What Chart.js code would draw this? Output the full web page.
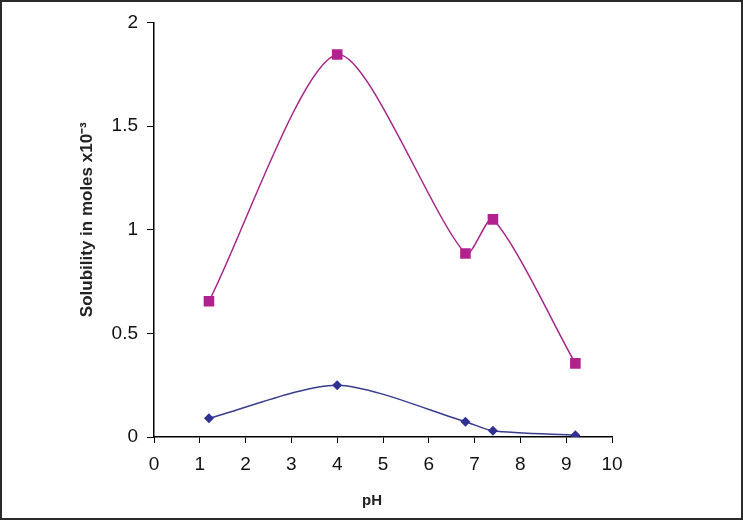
<!DOCTYPE html>
<html>
<head>
<meta charset="utf-8">
<script src="https://cdn.jsdelivr.net/npm/chart.js@4"></script>
<style>
  html, body { margin: 0; padding: 0; background: #fff; }
  #frame { width: 743px; height: 520px; box-sizing: border-box; border: 2px solid #2a2a2a; }
  #wrap { width: 739px; height: 516px; }
</style>
</head>
<body>
<div id="frame"><div id="wrap"><canvas id="solChart"></canvas></div></div>
<script>
// pH values and measured solubility (moles x10^-3)
const phValues = [1.2, 4, 6.8, 7.4, 9.2];
const upperSeries = [0.655, 1.845, 0.885, 1.05, 0.355];
const lowerSeries = [0.09, 0.25, 0.074, 0.03, 0.008];
const xTicks = [0, 1, 2, 3, 4, 5, 6, 7, 8, 9, 10];
const yTicks = [0, 0.5, 1, 1.5, 2];

const xTitle = "pH";
const yTitle = "Solubility in moles x10\u207B\u00B3";

const FONT = "'Liberation Sans', Arial, sans-serif";

function toPoints(ys) {
    return phValues.map((x, i) => ({ x: x, y: ys[i] }));
}

// axis titles are drawn by hand so they sit where the original has them
const titlePlugin = {
    id: 'axisTitles',
    afterDraw(chart) {
        const ctx = chart.ctx;
        const area = chart.chartArea;
        ctx.save();
        ctx.fillStyle = '#222';
        ctx.textAlign = 'center';
        ctx.textBaseline = 'middle';
        ctx.font = "bold 15px " + FONT;
        ctx.fillText(xTitle, (area.left + area.right) / 2 - 11, area.bottom + 64);
        ctx.font = "bold 17px " + FONT;
        ctx.translate(area.left - 67, (area.top + area.bottom) / 2 - 10);
        ctx.rotate(-Math.PI / 2);
        ctx.fillText(yTitle, 0, 0);
        ctx.restore();
    }
};

const ctx = document.getElementById('solChart').getContext('2d');
new Chart(ctx, {
    type: 'line',
    data: {
        datasets: [
            {
                data: toPoints(upperSeries),
                borderColor: '#a52589',
                borderWidth: 1.5,
                backgroundColor: '#b2228f',
                pointBackgroundColor: '#b2228f',
                pointBorderColor: '#b2228f',
                pointStyle: 'rect',
                pointRadius: 7.5,
                pointBorderWidth: 0,
                tension: 0.25,
                fill: false
            },
            {
                data: toPoints(lowerSeries),
                borderColor: '#383c8e',
                borderWidth: 1.5,
                backgroundColor: '#2e3192',
                pointBackgroundColor: '#2e3192',
                pointBorderColor: '#2e3192',
                pointStyle: 'rectRot',
                pointRadius: 5,
                pointBorderWidth: 0,
                tension: 0.25,
                fill: false
            }
        ]
    },
    options: {
        responsive: true,
        maintainAspectRatio: false,
        animation: false,
        layout: { padding: { top: 15, right: 129, left: 0, bottom: 0 } },
        plugins: {
            legend: { display: false },
            tooltip: { enabled: false }
        },
        scales: {
            x: {
                type: 'linear',
                min: 0,
                max: 10,
                afterBuildTicks: s => { s.ticks = xTicks.map(v => ({ value: v })); },
                afterFit: s => { s.height = 81; },
                grid: { drawOnChartArea: false, drawTicks: true, tickLength: 6, color: '#000' },
                border: { display: true, color: '#000', width: 1.5 },
                ticks: { color: '#111', font: { family: FONT, size: 19 }, padding: 10, maxRotation: 0,
                         callback: v => String(v) }
            },
            y: {
                type: 'linear',
                min: 0,
                max: 2,
                afterBuildTicks: s => { s.ticks = yTicks.map(v => ({ value: v })); },
                afterFit: s => { s.width = 152; },
                grid: { drawOnChartArea: false, drawTicks: true, tickLength: 7, color: '#000' },
                border: { display: true, color: '#000', width: 1.5 },
                ticks: { color: '#111', font: { family: FONT, size: 19 }, padding: 9,
                         callback: v => String(v) }
            }
        }
    },
    plugins: [titlePlugin]
});
</script>
</body>
</html>
